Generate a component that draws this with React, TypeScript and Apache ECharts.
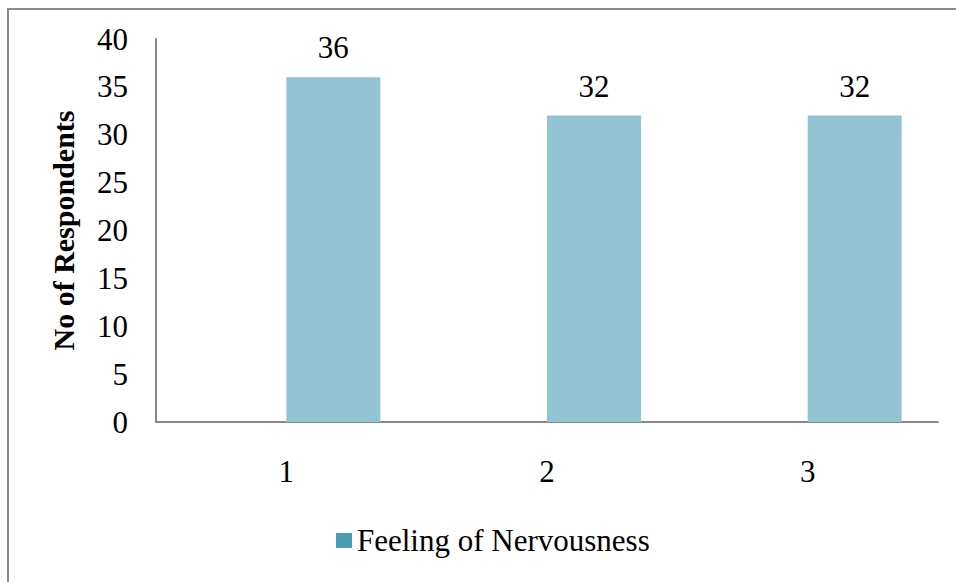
import React, { useEffect, useRef } from "react";
import * as echarts from "echarts";

// Survey responses per item
const categories: string[] = ["1", "2", "3"];
const nervousness: number[] = [36, 32, 32];
const seriesName = "Feeling of Nervousness";
const yTicks = { min: 0, max: 40, interval: 5 };

const FONT = "'Liberation Serif', 'Times New Roman', serif";
const SIZE = 31;

export default function App() {
  const ref = useRef<HTMLDivElement>(null);

  useEffect(() => {
    if (!ref.current) return;
    const chart = echarts.init(ref.current, null, { renderer: "svg" });
    chart.setOption({
      animation: false,
      backgroundColor: "#ffffff",
      textStyle: { fontFamily: FONT },
      graphic: [
        {
          type: "rect",
          shape: { x: 8, y: 9, width: 1200, height: 1200 },
          style: { fill: "none", stroke: "#8a8a8a", lineWidth: 2 },
          silent: true,
        },
      ],
      grid: { left: 156, right: 18, top: 39, bottom: 160, containLabel: false },
      legend: {
        bottom: 21,
        left: 331,
        itemWidth: 16,
        itemHeight: 15,
        itemGap: 8,
        icon: "rect",
        textStyle: { fontFamily: FONT, fontSize: SIZE, color: "#000" },
        data: [{ name: seriesName, itemStyle: { color: "#4a9cb4" } }],
      },
      xAxis: {
        type: "category",
        data: categories,
        axisLine: { show: true, lineStyle: { color: "#888888", width: 2 } },
        axisTick: { show: false },
        axisLabel: { fontFamily: FONT, fontSize: SIZE, color: "#000", margin: 34 },
      },
      yAxis: {
        type: "value",
        min: yTicks.min,
        max: yTicks.max,
        interval: yTicks.interval,
        name: "No of Respondents",
        nameLocation: "middle",
        nameGap: 78,
        nameTextStyle: { fontFamily: FONT, fontSize: 30, fontWeight: "bold", color: "#000" },
        axisLine: { show: true, lineStyle: { color: "#888888", width: 2 } },
        axisTick: { show: false },
        splitLine: { show: false },
        axisLabel: { fontFamily: FONT, fontSize: SIZE, color: "#000", margin: 28 },
      },
      series: [
        {
          name: "_spacer",
          type: "bar",
          data: categories.map(() => null),
          barWidth: 94,
          barGap: "0%",
          silent: true,
        },
        {
          name: seriesName,
          type: "bar",
          data: nervousness,
          barWidth: 94,
          barGap: "0%",
          itemStyle: { color: "#93c4d4" },
          label: {
            show: true,
            position: "top",
            distance: 14,
            fontFamily: FONT,
            fontSize: SIZE,
            color: "#000",
          },
        },
      ],
    });
    return () => chart.dispose();
  }, []);

  return (
    <div
      ref={ref}
      style={{ position: "fixed", left: 0, top: 0, width: 956, height: 582 }}
    />
  );
}
